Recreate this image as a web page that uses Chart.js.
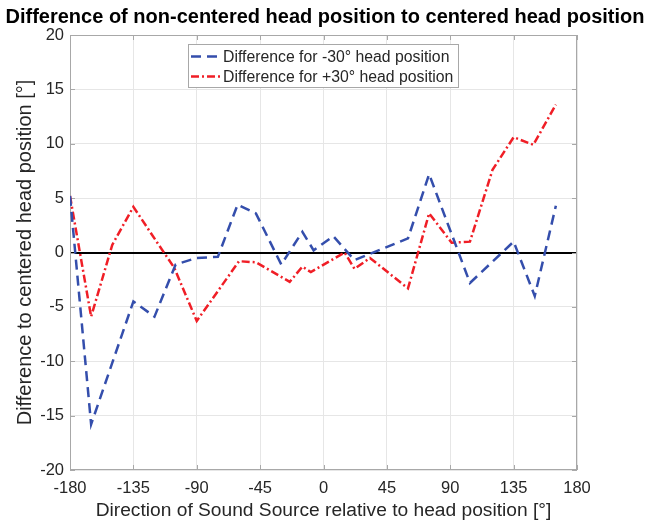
<!DOCTYPE html>
<html>
<head>
<meta charset="utf-8">
<script src="https://cdn.jsdelivr.net/npm/chart.js@4.4.0/dist/chart.umd.min.js"></script>
<style>
  body { margin: 0; background: #fff; }
  #wrap { width: 650px; height: 522px; }
</style>
</head>
<body>
<div id="wrap"><canvas id="grafico" width="650" height="522"></canvas></div>
<script>
// direction of sound source (deg) and difference (deg)
const minus30X = [-180, -165, -135, -120, -105, -90, -75, -61, -48, -30, -15, -7, 7, 22, 60, 75, 104, 135, 150, 165];
const minus30Y = [5.2, -15.8, -4.5, -5.9, -1.1, -0.5, -0.4, 4.4, 3.6, -1.1, 1.9, 0.2, 1.5, -0.7, 1.3, 7.2, -2.8, 1.0, -4.0, 4.3];

const plus30X = [-180, -165, -150, -135, -118, -106, -90, -60, -48, -24, -15, -9, 15, 22, 33, 60, 75, 91, 104, 120, 135, 149, 165];
const plus30Y = [5.2, -5.9, 0.7, 4.2, 0.9, -1.4, -6.3, -0.8, -0.9, -2.7, -1.3, -1.8, 0, -1.5, -0.5, -3.3, 3.6, 0.9, 1.0, 7.6, 10.6, 9.9, 13.6];

const xTicks = [-180, -135, -90, -45, 0, 45, 90, 135, 180];
const yTicks = [-20, -15, -10, -5, 0, 5, 10, 15, 20];

const seriesLabels = ['Difference for -30\u00b0 head position', 'Difference for +30\u00b0 head position'];

const font = '"Liberation Sans", Arial, Helvetica, sans-serif';
const textColor = '#262626';

function toPoints(xs, ys) {
  return xs.map((x, i) => ({ x: x, y: ys[i] }));
}

// box around the axes, inward tick marks and the boxed legend
const frame = {
  id: 'frame',
  beforeDatasetsDraw(chart) {
    const { ctx, chartArea: a, scales } = chart;
    ctx.save();
    ctx.strokeStyle = '#a8a8a8';
    ctx.lineWidth = 1;
    ctx.strokeRect(a.left + 0.5, a.top + 0.5, a.width - 1, a.height - 1);
    ctx.beginPath();
    xTicks.forEach(v => {
      const px = Math.round(scales.x.getPixelForValue(v)) + 0.5;
      ctx.moveTo(px, a.bottom); ctx.lineTo(px, a.bottom - 5);
      ctx.moveTo(px, a.top); ctx.lineTo(px, a.top + 5);
    });
    yTicks.forEach(v => {
      const py = Math.round(scales.y.getPixelForValue(v)) + 0.5;
      ctx.moveTo(a.left, py); ctx.lineTo(a.left + 5, py);
      ctx.moveTo(a.right, py); ctx.lineTo(a.right - 5, py);
    });
    ctx.stroke();
    ctx.restore();
  },
  afterDatasetsDraw(chart) {
    const { ctx, chartArea: a } = chart;
    const left = a.left + 118, top = a.top + 9, w = 270, h = 43;
    ctx.save();
    ctx.fillStyle = '#ffffff';
    ctx.fillRect(left, top, w, h);
    ctx.strokeStyle = '#a8a8a8';
    ctx.lineWidth = 1;
    ctx.strokeRect(left + 0.5, top + 0.5, w, h);
    chart.data.datasets.forEach((ds, i) => {
      const y = top + 12.5 + i * 20;
      ctx.beginPath();
      ctx.setLineDash(ds.borderDash);
      ctx.strokeStyle = ds.borderColor;
      ctx.lineWidth = ds.borderWidth;
      ctx.moveTo(left + 3, y);
      ctx.lineTo(left + 34, y);
      ctx.stroke();
      ctx.setLineDash([]);
      ctx.fillStyle = textColor;
      ctx.font = '15.8px ' + font;
      ctx.textBaseline = 'middle';
      ctx.fillText(ds.label, left + 35, y + 1);
    });
    ctx.restore();
  }
};

const config = {
  type: 'line',
  data: {
    datasets: [
      {
        label: seriesLabels[0],
        data: toPoints(minus30X, minus30Y),
        borderColor: 'rgb(52, 78, 172)',
        borderWidth: 2.5,
        borderDash: [10, 6],
        pointRadius: 0,
        fill: false,
        tension: 0
      },
      {
        label: seriesLabels[1],
        data: toPoints(plus30X, plus30Y),
        borderColor: 'rgb(240, 30, 38)',
        borderWidth: 2.5,
        borderDash: [8, 3, 2, 3],
        pointRadius: 0,
        fill: false,
        tension: 0
      }
    ]
  },
  options: {
    responsive: false,
    animation: false,
    layout: { padding: 0 },
    plugins: {
      legend: { display: false },
      tooltip: { enabled: false },
      title: {
        display: true,
        text: 'Difference of non-centered head position to centered head position',
        color: '#000',
        font: { family: font, size: 20, weight: 'bold', lineHeight: 1.2 },
        padding: { top: 5, bottom: 6 }
      }
    },
    scales: {
      x: {
        type: 'linear',
        min: -180,
        max: 180,
        afterBuildTicks: s => { s.ticks = xTicks.map(v => ({ value: v })); },
        afterFit: s => { s.height = 52; },
        grid: { color: '#e6e6e6', drawTicks: false },
        border: { display: false },
        ticks: { color: textColor, font: { family: font, size: 16.5 }, padding: 9, maxRotation: 0 },
        title: {
          display: true,
          text: 'Direction of Sound Source relative to head position [\u00b0]',
          color: textColor,
          font: { family: font, size: 19.2 },
          padding: { top: 0, bottom: 0 }
        }
      },
      y: {
        min: -20,
        max: 20,
        afterBuildTicks: s => { s.ticks = yTicks.map(v => ({ value: v })); },
        afterFit: s => { s.width = 70; },
        grid: {
          color: ctx => ctx.tick && ctx.tick.value === 0 ? '#000000' : '#e6e6e6',
          lineWidth: ctx => ctx.tick && ctx.tick.value === 0 ? 2 : 1,
          drawTicks: false
        },
        border: { display: false },
        ticks: { color: textColor, font: { family: font, size: 16.5 }, padding: 6 },
        title: {
          display: true,
          text: 'Difference to centered head position [\u00b0]',
          color: textColor,
          font: { family: font, size: 20 },
          padding: { top: 13, bottom: 0 }
        }
      },
      // empty right-hand spacer so the plot ends where the reference does
      spacer: {
        position: 'right',
        min: 0,
        max: 1,
        afterFit: s => { s.width = 73; },
        grid: { display: false },
        border: { display: false },
        ticks: { display: false }
      }
    }
  },
  plugins: [frame]
};

const ctx = document.getElementById('grafico').getContext('2d');
const chart = new Chart(ctx, config);
</script>
</body>
</html>
